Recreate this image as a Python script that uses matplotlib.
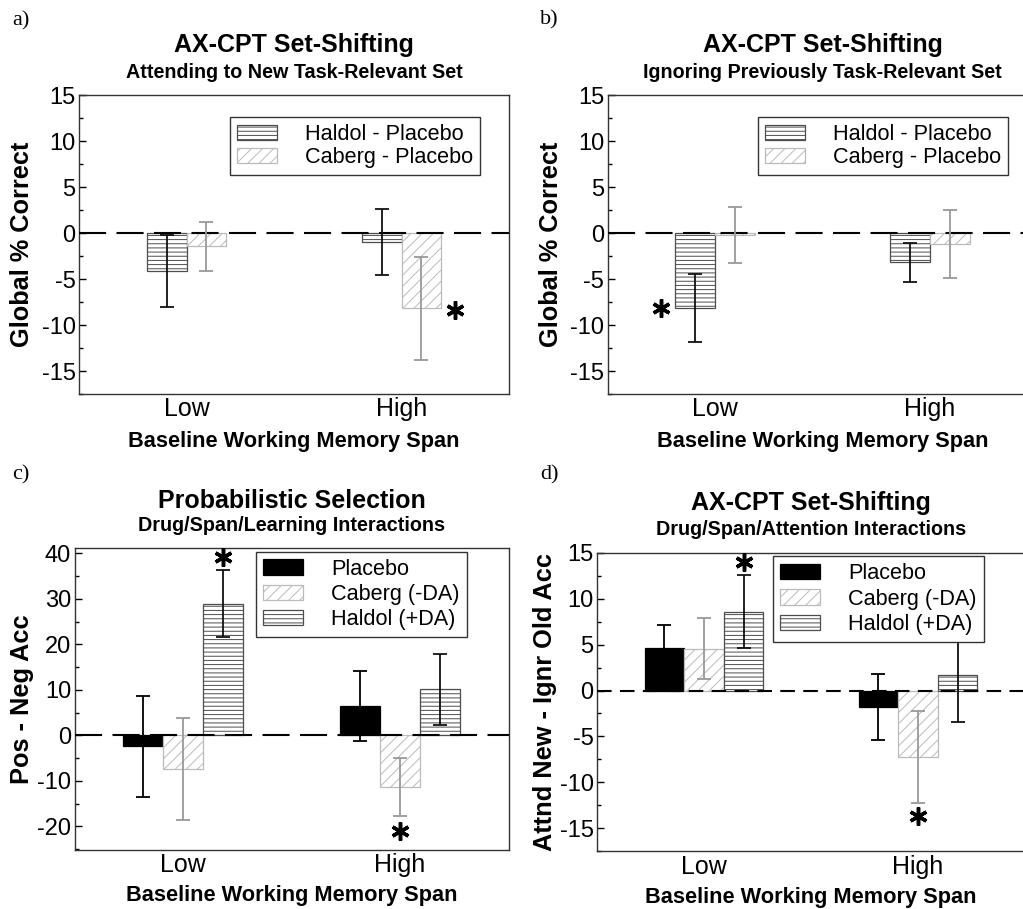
import matplotlib.pyplot as plt
import numpy as np

plt.rcParams['font.family'] = ['Liberation Sans', 'DejaVu Sans']
plt.rcParams['hatch.linewidth'] = 0.7
plt.rcParams['axes.unicode_minus'] = False

# data
spans = ['Low', 'High']

# a) attending to new set (drug - placebo)
a_haldol = [-4.1, -1.0]
a_haldol_err = [3.9, 3.6]
a_caberg = [-1.45, -8.2]
a_caberg_err = [2.7, 5.55]

# b) ignoring previous set
b_haldol = [-8.2, -3.2]
b_haldol_err = [3.7, 2.1]
b_caberg = [-0.25, -1.2]
b_caberg_err = [3.05, 3.65]

# c) probabilistic selection, pos - neg accuracy
c_placebo = [-2.4, 6.4]
c_placebo_err = [11.1, 7.7]
c_caberg = [-7.4, -11.4]
c_caberg_err = [11.1, 6.4]
c_haldol = [28.9, 10.1]
c_haldol_err = [7.4, 7.85]

# d) attend new - ignore old
d_placebo = [4.6, -1.75]
d_placebo_err = [2.5, 3.6]
d_caberg = [4.57, -7.2]
d_caberg_err = [3.3, 5.0]
d_haldol = [8.6, 1.7]
d_haldol_err = [4.0, 5.1]

# significance stars (x, y) in data units
a_stars = [(1.25, -8.4)]
b_stars = [(-0.25, -8.1)]
c_stars = [(0.185, 39.2), (1.0, -21.0)]
d_stars = [(0.185, 14.0), (1.0, -13.7)]

W, H = 1023, 909
fig = plt.figure(figsize=(W / 100, H / 100), dpi=100)

haldol_st = dict(facecolor='white', edgecolor='#4d4d4d', hatch='----', linewidth=0.9)
caberg_st = dict(facecolor='white', edgecolor='#bbbbbb', hatch='///', linewidth=0.9)
placebo_st = dict(facecolor='black', edgecolor='black', linewidth=0.9)
err_col = {'haldol': '#111111', 'caberg': '#999999', 'placebo': 'black'}
bw = 0.185
x = np.arange(len(spans))


def place(left, top, width, height):
    return fig.add_axes([left / W, 1 - (top + height) / H, width / W, height / H])


def draw(ax, series, ylim, major, title, sub, ylabel, stars, legend_anchor,
         ylab_x, xlab_off, t_off, s_off, dashes, lspace):
    n = len(series)
    offs = (np.arange(n) - (n - 1) / 2) * bw
    handles = []
    for (name, lab, vals, errs), off in zip(series, offs):
        st = {'haldol': haldol_st, 'caberg': caberg_st, 'placebo': placebo_st}[name]
        b = ax.bar(x + off, vals, bw, label=lab, zorder=2, **st)
        handles.append(b)
        ax.errorbar(x + off, vals, yerr=errs, fmt='none', ecolor=err_col[name],
                    elinewidth=1.3, capsize=4.8, capthick=1.3, zorder=4)
    ax.axhline(0, color='black', lw=1.5, dashes=dashes, zorder=3)
    for sx, sy in stars:
        ax.plot([sx], [sy], linestyle='none', marker=(6, 2, 0), ms=13, mew=2.5,
                color='black', zorder=6)
    ax.set_xlim(-0.5, 1.5)
    ax.set_ylim(*ylim)
    ax.set_xticks(x)
    ax.set_xticklabels(spans, fontsize=18)
    ax.tick_params(axis='x', length=0, pad=2.5)
    lo = int(np.ceil(ylim[0] / major) * major)
    ax.set_yticks(np.arange(lo, ylim[1] + 0.01, major))
    ax.set_yticks(np.arange(lo - major / 2, ylim[1] + 0.01, major / 2), minor=True)
    ax.tick_params(axis='y', which='major', direction='in', length=5, width=1,
                   labelsize=17, pad=2.5)
    ax.tick_params(axis='y', which='minor', direction='in', length=3.2, width=1)
    for s in ax.spines.values():
        s.set_color('#333333')
        s.set_linewidth(1.0)
    ax.set_ylabel(ylabel, fontsize=18.3, fontweight='bold')
    ax.yaxis.set_label_coords(ylab_x, 0.5)
    ax.yaxis.label.set_va('center')
    hp = ax.get_position().height * H
    ax.set_xlabel('Baseline Working Memory Span', fontsize=15.7, fontweight='bold')
    ax.xaxis.set_label_coords(0.5, -xlab_off / hp)
    ax.xaxis.label.set_va('center')
    ax.annotate(title, xy=(0.5, 1), xycoords='axes fraction', xytext=(0, t_off),
                textcoords='offset pixels', ha='center', va='center',
                fontsize=18, fontweight='bold')
    ax.annotate(sub, xy=(0.5, 1), xycoords='axes fraction', xytext=(0, s_off),
                textcoords='offset pixels', ha='center', va='center',
                fontsize=14.2, fontweight='bold')
    leg = ax.legend(handles=handles, loc='upper right', bbox_to_anchor=legend_anchor,
                    borderaxespad=0, fancybox=False, framealpha=1, edgecolor='#333333',
                    fontsize=15.6, handlelength=1.85, handleheight=0.7,
                    handletextpad=1.3, labelspacing=lspace, borderpad=0.32)
    leg.get_frame().set_linewidth(1.0)
    leg.set_zorder(5)


axa = place(79, 95, 430, 299)
draw(axa, [('haldol', 'Haldol - Placebo', a_haldol, a_haldol_err),
           ('caberg', 'Caberg - Placebo', a_caberg, a_caberg_err)],
     (-15, 15), 5, 'AX-CPT Set-Shifting', 'Attending to New Task-Relevant Set',
     'Global % Correct', a_stars, (0.933, 0.926), -0.133, 48, 50, 22, (13, 5), 0.08)

axb = place(607.5, 95, 430, 299)
draw(axb, [('haldol', 'Haldol - Placebo', b_haldol, b_haldol_err),
           ('caberg', 'Caberg - Placebo', b_caberg, b_caberg_err)],
     (-15, 15), 5, 'AX-CPT Set-Shifting', 'Ignoring Previously Task-Relevant Set',
     'Global % Correct', b_stars, (0.931, 0.926), -0.131, 47, 50, 22, (13, 5), 0.08)

axc = place(74.5, 548.3, 434, 301.7)
draw(axc, [('placebo', 'Placebo', c_placebo, c_placebo_err),
           ('caberg', 'Caberg (-DA)', c_caberg, c_caberg_err),
           ('haldol', 'Haldol (+DA)', c_haldol, c_haldol_err)],
     (-25.2, 41.1), 10, 'Probabilistic Selection', 'Drug/Span/Learning Interactions',
     'Pos - Neg Acc', c_stars, (0.904, 0.989), -0.121, 46, 47, 23, (13, 5), 0.2)

axd = place(597, 552.7, 428, 298.6)
draw(axd, [('placebo', 'Placebo', d_placebo, d_placebo_err),
           ('caberg', 'Caberg (-DA)', d_caberg, d_caberg_err),
           ('haldol', 'Haldol (+DA)', d_haldol, d_haldol_err)],
     (-15, 15), 5, 'AX-CPT Set-Shifting', 'Drug/Span/Attention Interactions',
     'Attnd New - Ignr Old Acc', d_stars, (0.904, 0.988), -0.121, 46, 50, 23, (7, 4), 0.2)

for lab, px, py in [('a)', 12, 21), ('b)', 540, 20), ('c)', 12, 475), ('d)', 540, 475)]:
    fig.text(px / W, 1 - py / H, lab, family=['Liberation Serif', 'DejaVu Serif'],
             fontsize=16, va='center', ha='left')

fig.savefig('out.png', dpi=100)
